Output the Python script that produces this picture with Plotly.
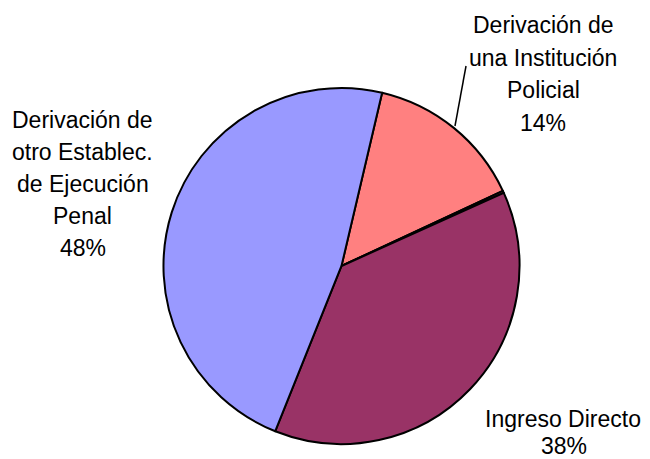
import plotly.graph_objects as go

# Procedencia de los ingresos
labels = [
    "Derivación de una Institución Policial",
    "Otro",
    "Ingreso Directo",
    "Derivación de otro Establec. de Ejecución Penal",
]
values = [14.4, 0.2, 37.8, 47.6]
colors = ["#FF8080", "#CC3366", "#993366", "#9999FF"]

# texto de las etiquetas, una lista por línea
label_policial = ["Derivación de", "una Institución", "Policial", "14%"]
label_directo = ["Ingreso Directo", "38%"]
label_penal = ["Derivación de", "otro Establec.", "de Ejecución", "Penal", "48%"]

FONT = "Liberation Sans, Arial, sans-serif"
H = 459

fig = go.Figure(go.Pie(
    labels=labels,
    values=values,
    sort=False,
    direction="clockwise",
    rotation=13.2,
    marker=dict(colors=colors, line=dict(color="black", width=2)),
    textinfo="none",
    hoverinfo="label+percent",
    showlegend=False,
    domain=dict(x=[0.2515, 0.7992], y=[0.0327, 0.8083]),
))


def add_line(text, xc, baseline, anchor="center"):
    fig.add_annotation(x=xc, y=H - (baseline - 8), text=text, xanchor=anchor)


def add_label(lines, xc, first_baseline, step):
    for i, line in enumerate(lines):
        add_line(line, xc, first_baseline + i * step)


add_label(label_policial, 543, 33, 32.5)
add_label(label_penal, 82.5, 128, 32)
add_line(label_directo[0], 643, 427, anchor="right")
add_line(label_directo[1], 564, 454)

fig.update_annotations(
    xref="x", yref="y", showarrow=False, align="center",
    yanchor="middle",
    font=dict(family=FONT, size=23, color="black"),
)

# línea guía de la etiqueta superior
fig.add_shape(type="line", xref="x", yref="y",
              x0=466, y0=H - 66, x1=455, y1=H - 126,
              line=dict(color="black", width=1.5))

fig.update_layout(
    width=650, height=H,
    margin=dict(l=0, r=0, t=0, b=0),
    paper_bgcolor="white", plot_bgcolor="white",
    xaxis=dict(range=[0, 650], visible=False, fixedrange=True),
    yaxis=dict(range=[0, H], visible=False, fixedrange=True),
)

# sin margen del body para que la figura quede en (0, 0)
fig.write_html("out.html", config={"displayModeBar": False},
               post_script="document.body.style.margin='0';")
